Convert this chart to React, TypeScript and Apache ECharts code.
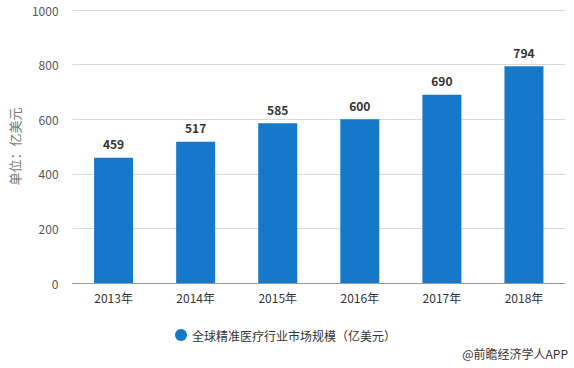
import React, { useEffect, useRef } from "react";
import * as echarts from "echarts";

const categories = ["2013年", "2014年", "2015年", "2016年", "2017年", "2018年"];
const values = [459, 517, 585, 600, 690, 794];
const seriesName = "全球精准医疗行业市场规模（亿美元）";
const yAxisName = "单位：亿美元";
const sourceText = "@前瞻经济学人APP";

const FONT = "'Noto Sans CJK SC', 'Microsoft YaHei', sans-serif";

export default function App() {
  const ref = useRef<HTMLDivElement>(null);
  useEffect(() => {
    if (!ref.current) return;
    const chart = echarts.init(ref.current, undefined, { renderer: "svg" });
    chart.setOption({
      animation: false,
      textStyle: { fontFamily: FONT },
      grid: { left: 70, right: 9, top: 10, bottom: 85 },
      legend: {
        data: [seriesName],
        left: 170,
        top: 324,
        icon: "circle",
        itemWidth: 12,
        itemHeight: 12,
        itemGap: 6,
        textStyle: { fontSize: 12, color: "#333", fontFamily: FONT },
      },
      graphic: [
        {
          type: "text",
          right: 6,
          top: 347,
          style: { text: sourceText, fontSize: 12, fill: "#333", fontFamily: FONT },
        },
      ],
      xAxis: {
        type: "category",
        data: categories,
        axisLine: { lineStyle: { color: "#999" } },
        axisTick: { alignWithLabel: true, lineStyle: { color: "#999" } },
        axisLabel: { color: "#333", fontSize: 12, margin: 8 },
      },
      yAxis: {
        type: "value",
        min: 0,
        max: 1000,
        interval: 200,
        name: yAxisName,
        nameLocation: "middle",
        nameGap: 50,
        nameTextStyle: { color: "#777", fontSize: 13 },
        axisLine: { show: false },
        axisTick: { show: false },
        axisLabel: { color: "#555", fontSize: 12, margin: 14, formatter: (v: number) => String(v) },
        splitLine: { lineStyle: { color: "#d9d9d9" } },
      },
      series: [
        {
          name: seriesName,
          type: "bar",
          data: values,
          barWidth: 39,
          itemStyle: { color: "#1678c8" },
          label: {
            show: true,
            position: "top",
            distance: 8,
            color: "#333",
            fontWeight: "bold",
            fontSize: 12,
          },
        },
      ],
    });
    return () => chart.dispose();
  }, []);
  return (
    <div
      ref={ref}
      style={{ position: "fixed", left: 0, top: 0, width: 574, height: 368, background: "#fff" }}
    />
  );
}
